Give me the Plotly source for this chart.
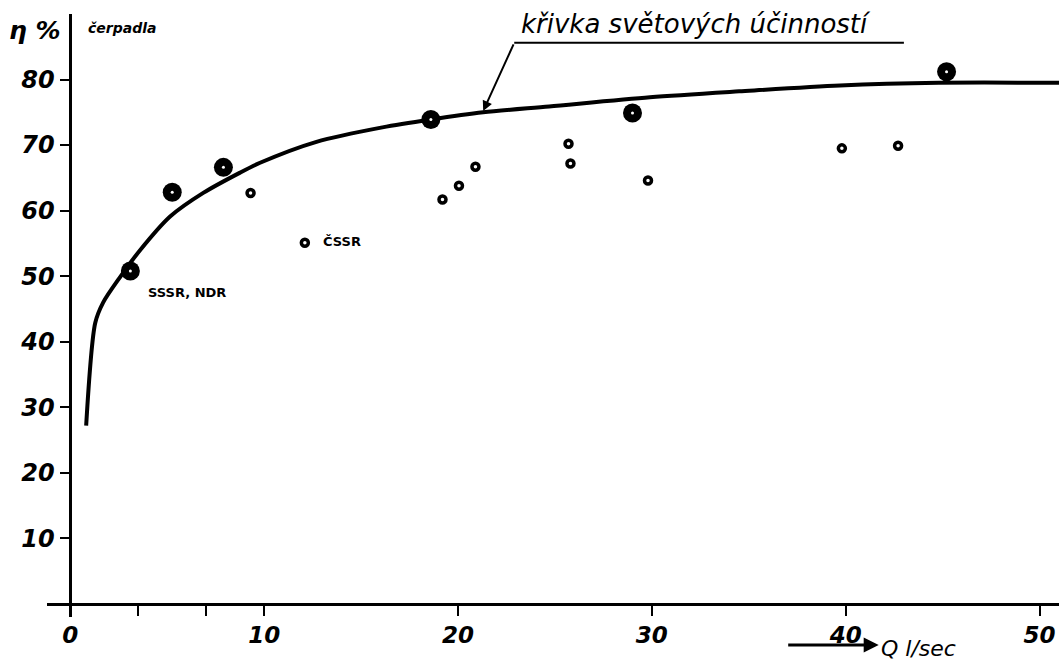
import plotly.graph_objects as go

# Efficiency curve ("křivka světových účinností")
curve_q = [0.82, 1.29, 1.70, 2.58, 3.61, 5.15, 6.86, 8.76, 9.79, 12.7, 16.1, 18.6, 21.3, 24.7, 29.9, 34.5, 39.7, 44.8, 51.0]
curve_eta = [27.2, 42.9, 46.0, 49.9, 54.0, 59.1, 62.7, 65.8, 67.3, 70.5, 72.7, 73.9, 75.0, 75.9, 77.3, 78.2, 79.1, 79.5, 79.5]

# Large (world best) points
big_q = [3.1, 5.26, 7.9, 18.6, 29.0, 45.2]
big_eta = [50.8, 62.8, 66.6, 73.9, 74.9, 81.2]

# Small open points
small_q = [9.3, 12.1, 19.2, 20.05, 20.9, 25.7, 25.8, 29.8, 39.8, 42.7]
small_eta = [62.7, 55.1, 61.7, 63.8, 66.7, 70.2, 67.2, 64.6, 69.5, 69.9]

x_tickvals = [0, 3.5, 7, 10, 20, 30, 40, 50]
x_ticktext = ["0", "", "", "10", "20", "30", "40", "50"]
y_tickvals = [10, 20, 30, 40, 50, 60, 70, 80]

hand = "DejaVu Sans"

fig = go.Figure()
fig.add_trace(go.Scatter(x=curve_q, y=curve_eta, mode="lines",
                         line=dict(color="black", width=4, shape="spline", smoothing=0.8),
                         hoverinfo="skip"))
fig.add_trace(go.Scatter(x=big_q, y=big_eta, mode="markers",
                         marker=dict(size=19, color="black")))
fig.add_trace(go.Scatter(x=big_q, y=big_eta, mode="markers",
                         marker=dict(size=3, color="white")))
fig.add_trace(go.Scatter(x=small_q, y=small_eta, mode="markers",
                         marker=dict(size=7, color="white", line=dict(color="black", width=3.5))))

# Leader line for the curve label
lead_x = [43.0, 22.9]
lead_y = [85.6, 85.6]
fig.add_trace(go.Scatter(x=lead_x, y=lead_y, mode="lines",
                         line=dict(color="black", width=2), hoverinfo="skip"))

fig.add_annotation(x=21.3, y=75.2, ax=22.9, ay=85.6, axref="x", ayref="y",
                   xref="x", yref="y", text="", showarrow=True,
                   arrowhead=2, arrowsize=1, arrowwidth=2, arrowcolor="black")
fig.add_annotation(x=32.3, y=85.6, xref="x", yref="y", yanchor="bottom", yshift=2,
                   text="křivka světových účinností", showarrow=False,
                   font=dict(family=hand, size=26, color="black", style="italic"))

fig.add_annotation(x=6.0, y=47.5, xref="x", yref="y", text="SSSR, NDR", showarrow=False,
                   font=dict(family=hand, size=13, color="black", weight="bold"))
fig.add_annotation(x=14.0, y=55.3, xref="x", yref="y", text="ČSSR", showarrow=False,
                   font=dict(family=hand, size=13, color="black", weight="bold"))

fig.add_annotation(x=-0.4, y=87.5, xref="x", yref="y", text="η %", showarrow=False,
                   xanchor="right",
                   font=dict(family=hand, size=25, color="black", weight="bold", style="italic"))
fig.add_annotation(x=0.8, y=87.8, xref="x", yref="y", text="čerpadla", showarrow=False,
                   xanchor="left",
                   font=dict(family=hand, size=14, color="black", weight="bold", style="italic"))

# X axis caption with arrow
fig.add_annotation(x=41.7, y=-0.0464, ax=-92, ay=0, axref="pixel", ayref="pixel",
                   xref="x", yref="paper", text="", showarrow=True,
                   arrowhead=2, arrowsize=1, arrowwidth=3, arrowcolor="black")
fig.add_annotation(x=41.7, y=-0.0464, xref="x", yref="paper", text="Q l/sec", showarrow=False,
                   xanchor="left", yanchor="middle", yshift=-4,
                   font=dict(family=hand, size=22, color="black", style="italic"))

fig.update_layout(
    width=1059, height=663,
    margin=dict(l=47, r=0, t=14, b=46),
    paper_bgcolor="white", plot_bgcolor="white",
    showlegend=False,
    xaxis=dict(range=[-1.2, 51], tickvals=x_tickvals, ticktext=x_ticktext,
               showgrid=False, zeroline=False, showline=True, linecolor="black", linewidth=2.5,
               anchor="free", position=13/603,
               ticks="outside", ticklen=10, tickwidth=2, tickcolor="black",
               tickfont=dict(family=hand, size=23, color="black", style="italic", weight="bold")),
    yaxis=dict(range=[-2, 90], tickvals=y_tickvals,
               showgrid=False, zeroline=False, showline=True, linecolor="black", linewidth=2.5,
               anchor="free", position=23.3/1012,
               ticks="outside", ticklen=10, tickwidth=2, tickcolor="black",
               tickfont=dict(family=hand, size=24, color="black", style="italic", weight="bold")),
)

fig.write_html("out.html", config={"displayModeBar": False},
               post_script="document.body.style.margin='0px';document.body.style.overflow='hidden';")
